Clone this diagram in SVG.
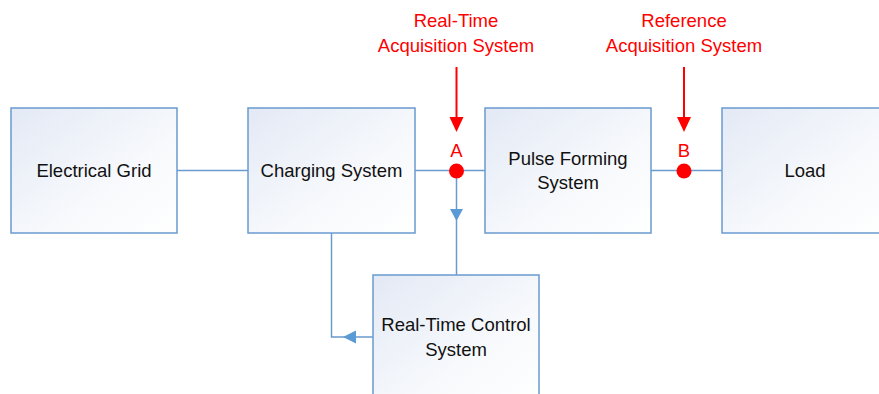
<svg xmlns="http://www.w3.org/2000/svg" width="879" height="394" viewBox="0 0 879 394">
<defs>
<linearGradient id="g" x1="0" y1="0" x2="1" y2="1">
<stop offset="0" stop-color="#e3e9f5"/>
<stop offset="0.6" stop-color="#f7f9fc"/>
<stop offset="1" stop-color="#ffffff"/>
</linearGradient>
<style>
.box{fill:url(#g);stroke:#6a9bd0;stroke-width:1.5}
.t{font-family:"Liberation Sans",Arial,sans-serif;font-size:18.5px;fill:#111;text-anchor:middle}
.r{font-family:"Liberation Sans",Arial,sans-serif;font-size:18.5px;fill:#ff0000;text-anchor:middle}
.ln{stroke:#6a9bd0;stroke-width:1.5;fill:none}
.rl{stroke:#ff0000;stroke-width:2;fill:none}
</style>
</defs>
<rect width="879" height="394" fill="#fff"/>
<g id="connectors">
<line class="ln" x1="177" y1="170.5" x2="248" y2="170.5"/>
<line class="ln" x1="415" y1="170.5" x2="485" y2="170.5"/>
<line class="ln" x1="651" y1="170.5" x2="722" y2="170.5"/>
<line class="ln" x1="456.5" y1="170.5" x2="456.5" y2="275"/>
<polygon points="450,209 463,209 456.5,221" fill="#5b9bd5"/>
<polyline class="ln" points="331.5,233 331.5,337 373,337"/>
<polygon points="343,337 356,330.5 356,343.5" fill="#5b9bd5"/>
<line class="rl" x1="456.5" y1="67" x2="456.5" y2="118"/>
<polygon points="449.5,117 463.5,117 456.5,132" fill="#ff0000"/>
<line class="rl" x1="684" y1="67" x2="684" y2="118"/>
<polygon points="677,117 691,117 684,132" fill="#ff0000"/>
</g>
<g id="electrical-grid"><rect class="box" x="11" y="108" width="166" height="125"/><text class="t" x="94" y="177">Electrical Grid</text></g>
<g id="charging-system"><rect class="box" x="248" y="108" width="167" height="125"/><text class="t" x="331.5" y="177">Charging System</text></g>
<g id="pulse-forming"><rect class="box" x="485" y="108" width="166" height="125"/><text class="t" x="568" y="165">Pulse Forming</text><text class="t" x="568" y="189">System</text></g>
<g id="load"><rect class="box" x="722" y="108" width="166" height="125"/><text class="t" x="805" y="177">Load</text></g>
<g id="rtc"><rect class="box" x="373" y="275" width="166" height="130"/><text class="t" x="456" y="331">Real-Time Control</text><text class="t" x="456" y="356">System</text></g>
<g id="point-a"><circle cx="456.5" cy="171" r="7.5" fill="#ff0000"/><text class="r" x="456.5" y="157">A</text><text class="r" x="456" y="27">Real-Time</text><text class="r" x="456" y="52">Acquisition System</text></g>
<g id="point-b"><circle cx="684" cy="171" r="7.5" fill="#ff0000"/><text class="r" x="684" y="157">B</text><text class="r" x="684" y="27">Reference</text><text class="r" x="684" y="52">Acquisition System</text></g>
</svg>
